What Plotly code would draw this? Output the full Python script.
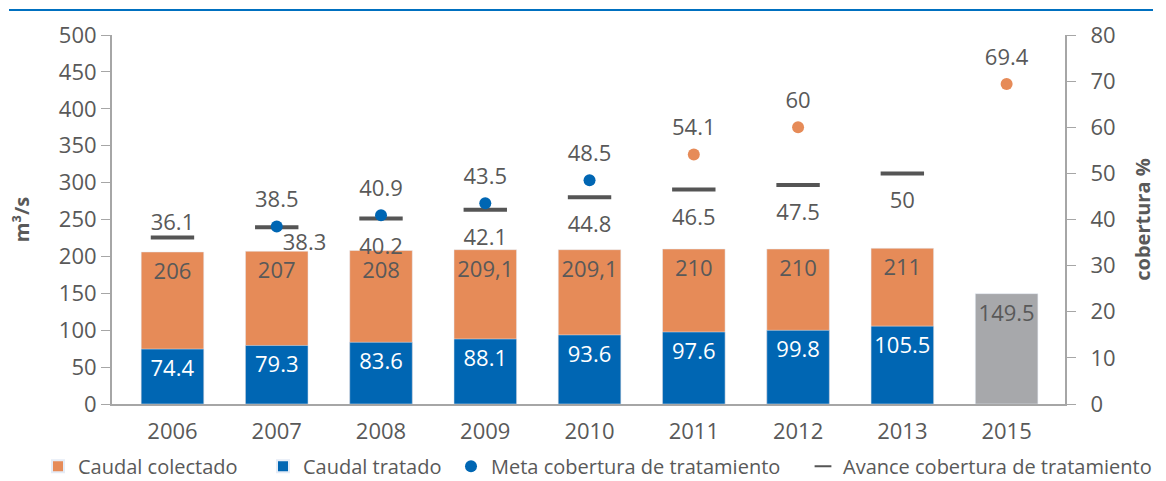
import plotly.graph_objects as go

years = ["2006", "2007", "2008", "2009", "2010", "2011", "2012", "2013", "2015"]
bar_years = ["2006", "2007", "2008", "2009", "2010", "2011", "2012", "2013"]
colectado = [206, 207, 208, 209.1, 209.1, 210, 210, 211]
colectado_labels = ["206", "207", "208", "209,1", "209,1", "210", "210", "211"]
tratado = [74.4, 79.3, 83.6, 88.1, 93.6, 97.6, 99.8, 105.5]
meta_2015_year = ["2015"]
meta_2015_value = [149.5]

meta_blue_years = ["2007", "2008", "2009", "2010"]
meta_blue = [38.5, 40.9, 43.5, 48.5]
meta_orange_years = ["2011", "2012", "2015"]
meta_orange = [54.1, 60, 69.4]

avance_years = ["2006", "2007", "2008", "2009", "2010", "2011", "2012", "2013"]
avance = [36.1, 38.3, 40.2, 42.1, 44.8, 46.5, 47.5, 50]
avance_pos = ["top center", "bottom right", "bottom center", "bottom center",
              "bottom center", "bottom center", "bottom center", "bottom center"]

ORANGE = "#e68b58"
BLUE = "#0066b3"
GRAY_BAR = "#a7a8ab"
DASH = "#555555"
TXT = "#595959"
AX = "#a6a6a6"
FONT = "Open Sans"
FS = 22

W, H = 1158, 473
ML, MR, MT, MB = 104, 101, 27, 77
PW = W - ML - MR

LABEL_OFFSET = {"top center": 1, "bottom right": 8, "bottom center": 28}


def fmt(v):
    return str(v) if v % 1 else str(int(v))


def px_to_paper_x(px):
    return (px - ML) / PW


fig = go.Figure()
fig.add_trace(go.Bar(
    x=bar_years, y=colectado, name="Caudal colectado", marker_color=ORANGE,
    text=colectado_labels, texttemplate="%{text}", textposition="inside",
    insidetextanchor="end", constraintext="none",
    textfont=dict(color=TXT, size=FS, family=FONT), width=0.6, legend="legend"))
fig.add_trace(go.Bar(
    x=bar_years, y=tratado, name="Caudal tratado", marker_color=BLUE,
    text=[fmt(v) for v in tratado], texttemplate="%{text}", textposition="inside",
    insidetextanchor="end", constraintext="none",
    textfont=dict(color="white", size=FS, family=FONT), width=0.6, legend="legend2"))
fig.add_trace(go.Bar(
    x=meta_2015_year, y=meta_2015_value, name="2015", marker_color=GRAY_BAR,
    text=[fmt(v) for v in meta_2015_value], texttemplate="%{text}", textposition="inside",
    insidetextanchor="end", constraintext="none",
    textfont=dict(color=TXT, size=FS, family=FONT), width=0.6, showlegend=False))


def add_labels(xs, ys, pos, msize):
    fig.add_trace(go.Scatter(
        x=xs, y=ys, yaxis="y2", mode="markers+text", showlegend=False, hoverinfo="skip",
        marker=dict(size=msize, color="rgba(0,0,0,0)", opacity=0, line=dict(width=0)),
        text=[fmt(v) for v in ys], textposition=pos,
        textfont=dict(color=TXT, size=FS, family=FONT), cliponaxis=False))


add_labels(avance_years, avance, avance_pos, [LABEL_OFFSET[p] for p in avance_pos])
add_labels(meta_blue_years, meta_blue, "top center", 20)
add_labels(meta_orange_years, meta_orange, "top center", 20)

fig.add_trace(go.Scatter(
    x=avance_years, y=avance, yaxis="y2", mode="markers",
    name="Avance cobertura de tratamiento", legend="legend4",
    marker=dict(symbol="line-ew-open", size=31, line=dict(color=DASH, width=4), color=DASH)))
fig.add_trace(go.Scatter(
    x=meta_blue_years, y=meta_blue, yaxis="y2", mode="markers",
    name="Meta cobertura de tratamiento", legend="legend3",
    marker=dict(symbol="circle", size=12, color=BLUE, line=dict(width=0))))
fig.add_trace(go.Scatter(
    x=meta_orange_years, y=meta_orange, yaxis="y2", mode="markers",
    name="Meta cobertura de tratamiento", showlegend=False,
    marker=dict(symbol="circle", size=12, color=ORANGE, line=dict(width=0))))

leg_common = dict(orientation="h", yref="paper", y=-0.116, yanchor="top", xanchor="left",
                  font=dict(size=20, color=TXT, family=FONT), itemsizing="constant",
                  bgcolor="rgba(0,0,0,0)")

fig.update_layout(
    width=W, height=H,
    margin=dict(l=ML, r=MR, t=MT, b=MB, autoexpand=False),
    barmode="overlay",
    plot_bgcolor="white", paper_bgcolor="white",
    font=dict(family=FONT, color=TXT, size=FS),
    showlegend=True,
    legend=dict(x=px_to_paper_x(30), **leg_common),
    legend2=dict(x=px_to_paper_x(255), **leg_common),
    legend3=dict(x=px_to_paper_x(443), **leg_common),
    legend4=dict(x=px_to_paper_x(795), **leg_common),
    xaxis=dict(type="category", categoryorder="array", categoryarray=years,
               range=[-0.58, 8.56], showline=True, linecolor=AX, linewidth=2,
               ticks="", showgrid=False, tickfont=dict(size=FS, color=TXT), automargin=False,
               ticklabelstandoff=7),
    yaxis=dict(range=[0, 500], dtick=50, showline=True, linecolor=AX, linewidth=2,
               ticks="outside", ticklen=9, tickcolor=AX, showgrid=False, zeroline=False,
               tickfont=dict(size=FS, color=TXT), automargin=False,
               title=dict(text="<b>m³/s</b>", font=dict(size=20, color=TXT), standoff=34)),
    yaxis2=dict(range=[0, 80], dtick=10, overlaying="y", side="right", showline=True,
                linecolor=AX, linewidth=2, ticks="outside", ticklen=9, tickcolor=AX,
                showgrid=False, zeroline=False, tickfont=dict(size=FS, color=TXT),
                automargin=False, ticklabelstandoff=10,
                title=dict(text="<b>cobertura %</b>", font=dict(size=20, color=TXT), standoff=21)),
)

fig.add_shape(type="line", xref="paper", yref="paper",
              x0=px_to_paper_x(1), x1=px_to_paper_x(1145),
              y0=1 + (MT - 2) / (H - MT - MB), y1=1 + (MT - 2) / (H - MT - MB),
              line=dict(color="#0070c0", width=2))

fig.write_html("out.html")
